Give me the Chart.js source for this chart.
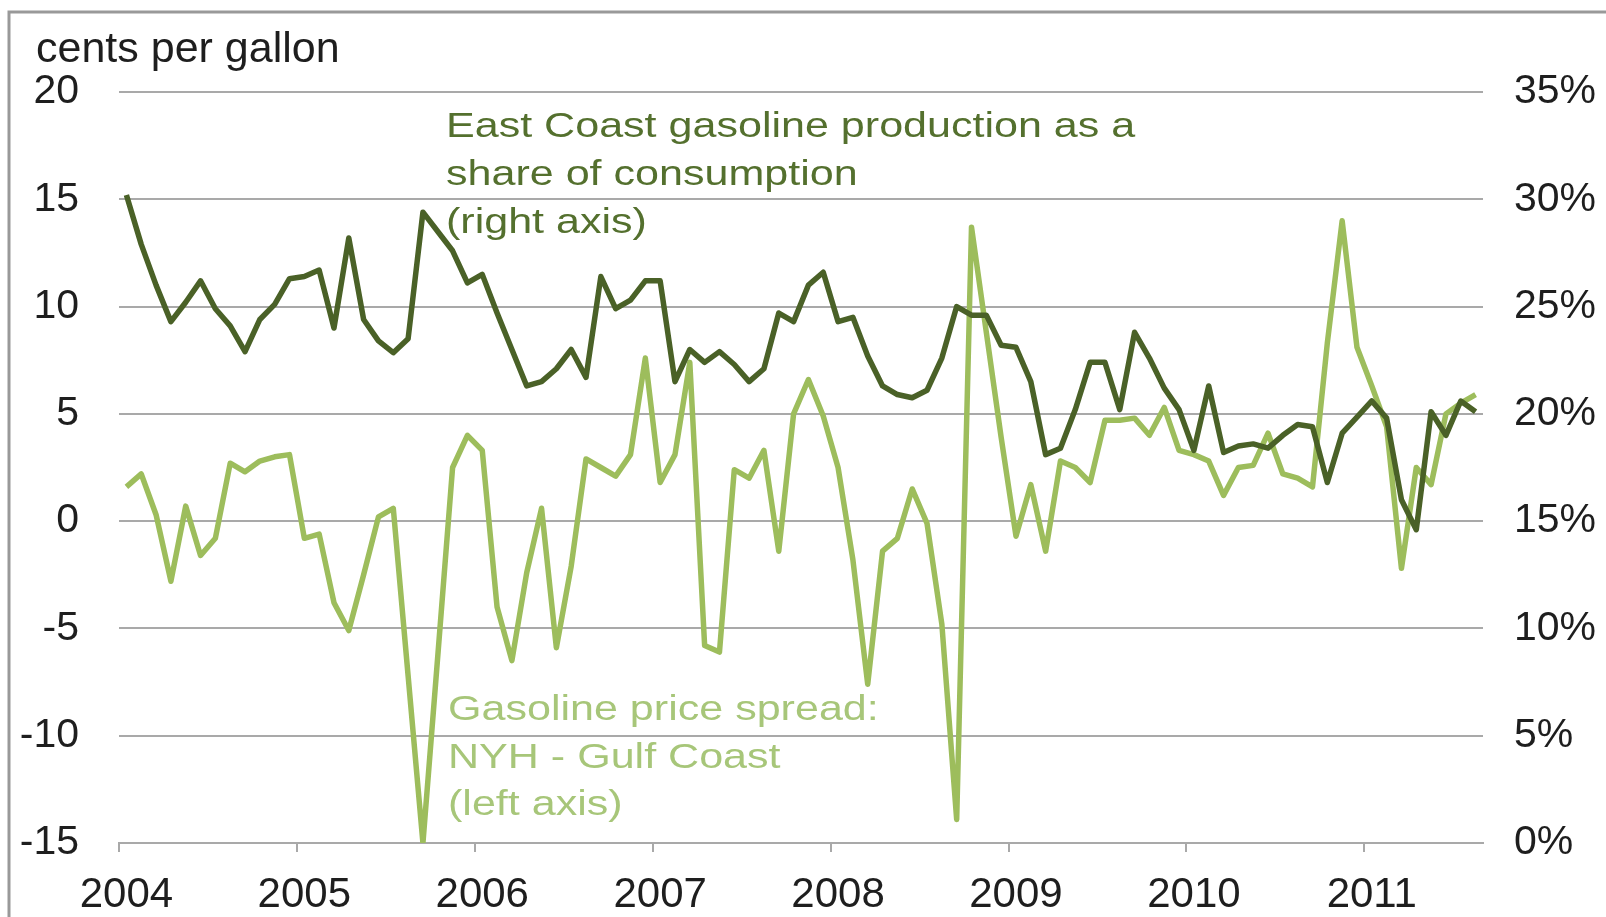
<!DOCTYPE html>
<html>
<head>
<meta charset="utf-8">
<script src="https://cdn.jsdelivr.net/npm/chart.js@4.4.1/dist/chart.umd.min.js"></script>
<style>
  html, body { margin: 0; padding: 0; background: #ffffff; }
  #wrap { position: relative; width: 1606px; height: 917px; }
  canvas { display: block; }
</style>
</head>
<body>
<div id="wrap"><canvas id="chart" width="1606" height="917"></canvas></div>
<script>
// Year labels on the horizontal axis (one tick per January)
const yearLabels = ['2004', '2005', '2006', '2007', '2008', '2009', '2010', '2011'];

// Gasoline price spread, NY Harbor minus Gulf Coast, cents per gallon (left axis), Jan 2004 - Aug 2011
const spreadCents = [
   1.6,  2.2,  0.3, -2.8,  0.7, -1.6, -0.8,  2.7,  2.3,  2.8,  3.0,  3.1,
  -0.8, -0.6, -3.8, -5.1, -2.5,  0.2,  0.6, -7.2,-15.0, -6.3,  2.5,  4.0,
   3.3, -4.0, -6.5, -2.4,  0.6, -5.9, -2.1,  2.9,  2.5,  2.1,  3.1,  7.6,
   1.8,  3.1,  7.4, -5.8, -6.1,  2.4,  2.0,  3.3, -1.4,  5.0,  6.6,  4.9,
   2.5, -1.8, -7.6, -1.4, -0.8,  1.5, -0.1, -4.8,-13.9, 13.7,  8.8,  3.9,
  -0.7,  1.7, -1.4,  2.8,  2.5,  1.8,  4.7,  4.7,  4.8,  4.0,  5.3,  3.3,
   3.1,  2.8,  1.2,  2.5,  2.6,  4.1,  2.2,  2.0,  1.6,  8.3, 14.0,  8.1,
   6.3,  4.4, -2.2,  2.5,  1.7,  5.0,  5.5,  5.9
];

// East Coast gasoline production as a share of consumption, percent (right axis)
const eastCoastShare = [
  30.2, 27.9, 26.0, 24.3, 25.2, 26.2, 24.9, 24.1, 22.9, 24.4, 25.1, 26.3,
  26.4, 26.7, 24.0, 28.2, 24.4, 23.4, 22.85, 23.5, 29.4, 28.5, 27.6, 26.1,
  26.5, 24.7, 23.0, 21.3, 21.5, 22.1, 23.0, 21.7, 26.4, 24.9, 25.3, 26.2,
  26.2, 21.5, 23.0, 22.4, 22.9, 22.3, 21.5, 22.1, 24.7, 24.3, 26.0, 26.6,
  24.3, 24.5, 22.7, 21.3, 20.9, 20.75, 21.1, 22.6, 25.0, 24.6, 24.6, 23.2,
  23.1, 21.5, 18.1, 18.4, 20.2, 22.4, 22.4, 20.2, 23.8, 22.6, 21.2, 20.2,
  18.3, 21.3, 18.2, 18.5, 18.6, 18.4, 19.0, 19.5, 19.4, 16.8, 19.1, 19.85,
  20.6, 19.8, 16.0, 14.6, 20.1, 19.0, 20.6, 20.1
];

// Axis ranges
const leftRange = [-15, 20];
const rightRange = [0, 35];
const tickStep = 5;

// Monthly categories built from the year list
const monthCategories = [];
yearLabels.forEach(y => {
  for (let m = 1; m <= 12; m++) monthCategories.push(y + '-' + String(m).padStart(2, '0'));
});
monthCategories.length = spreadCents.length;

const FONT = '"Liberation Sans", Arial, Helvetica, sans-serif';
const GRID = '#a9a9a9';
const TEXT = '#1e1e1e';
const DARK = '#4a6127';
const LIGHT = '#9dbd5c';

// Outer frame and white background
const framePlugin = {
  id: 'frame',
  beforeDraw(chart) {
    const c = chart.ctx;
    c.save();
    c.fillStyle = '#ffffff';
    c.fillRect(0, 0, chart.width, chart.height);
    c.strokeStyle = '#999999';
    c.lineWidth = 3;
    c.beginPath();
    c.moveTo(9, chart.height + 5);
    c.lineTo(9, 12);
    c.lineTo(chart.width + 5, 12);
    c.stroke();
    c.restore();
  }
};

// Axis unit title and the two series captions
const captionPlugin = {
  id: 'captions',
  afterDatasetsDraw(chart) {
    const c = chart.ctx;
    c.save();
    c.textBaseline = 'alphabetic';
    c.textAlign = 'left';
    c.fillStyle = TEXT;
    c.font = '43px ' + FONT;
    c.fillText('cents per gallon', 36, 62);

    const drawBlock = (lines, x, y0, step, color) => {
      c.fillStyle = color;
      c.font = '35px ' + FONT;
      lines.forEach((t, i) => {
        c.save();
        c.translate(x, y0 + i * step);
        c.scale(1.23, 1);
        c.fillText(t, 0, 0);
        c.restore();
      });
    };
    drawBlock(['East Coast gasoline production as a', 'share of consumption', '(right axis)'],
              446, 137, 48, '#54702e');
    drawBlock(['Gasoline price spread:', 'NYH - Gulf Coast', '(left axis)'],
              448, 720, 47.5, '#a7c679');
    c.restore();
  }
};

const nMonths = monthCategories.length;

new Chart(document.getElementById('chart').getContext('2d'), {
  type: 'line',
  data: {
    labels: monthCategories,
    datasets: [
      {
        label: 'East Coast gasoline production as a share of consumption',
        data: eastCoastShare,
        yAxisID: 'yR',
        borderColor: DARK,
        borderWidth: 5.5,
        borderJoinStyle: 'round',
        pointRadius: 0,
        tension: 0,
        fill: false
      },
      {
        label: 'Gasoline price spread: NYH - Gulf Coast',
        data: spreadCents,
        yAxisID: 'yL',
        borderColor: LIGHT,
        borderWidth: 5.5,
        borderJoinStyle: 'round',
        pointRadius: 0,
        tension: 0,
        fill: false
      }
    ]
  },
  options: {
    responsive: false,
    animation: false,
    devicePixelRatio: 1,
    layout: { padding: { top: 92, left: 0, right: 0, bottom: 0 } },
    plugins: { legend: { display: false }, tooltip: { enabled: false } },
    scales: {
      x: {
        type: 'category',
        offset: true,
        grid: {
          offset: true,
          drawOnChartArea: false,
          drawTicks: true,
          tickLength: 9,
          lineWidth: 2,
          color: (ctx) => (ctx.index % 12 === 0 && ctx.index < nMonths) ? GRID : 'rgba(0,0,0,0)'
        },
        border: { display: true, color: GRID, width: 2 },
        ticks: {
          autoSkip: false,
          maxRotation: 0,
          minRotation: 0,
          padding: 18,
          color: TEXT,
          font: { family: FONT, size: 42 },
          callback: (v, i) => (i % 12 === 0 ? yearLabels[i / 12] : '')
        },
        afterFit: (s) => { s.height = 74; }
      },
      yL: {
        position: 'left',
        min: leftRange[0],
        max: leftRange[1],
        ticks: {
          stepSize: tickStep,
          padding: 40,
          color: TEXT,
          font: { family: FONT, size: 41 }
        },
        grid: { color: GRID, lineWidth: 2, drawTicks: false },
        border: { display: false },
        afterFit: (s) => { s.width = 119; }
      },
      yR: {
        position: 'right',
        min: rightRange[0],
        max: rightRange[1],
        ticks: {
          stepSize: tickStep,
          padding: 31,
          color: TEXT,
          font: { family: FONT, size: 41 },
          callback: (v) => v + '%'
        },
        grid: { drawOnChartArea: false, drawTicks: false },
        border: { display: false },
        afterFit: (s) => { s.width = 123; }
      }
    }
  },
  plugins: [framePlugin, captionPlugin]
});
</script>
</body>
</html>
